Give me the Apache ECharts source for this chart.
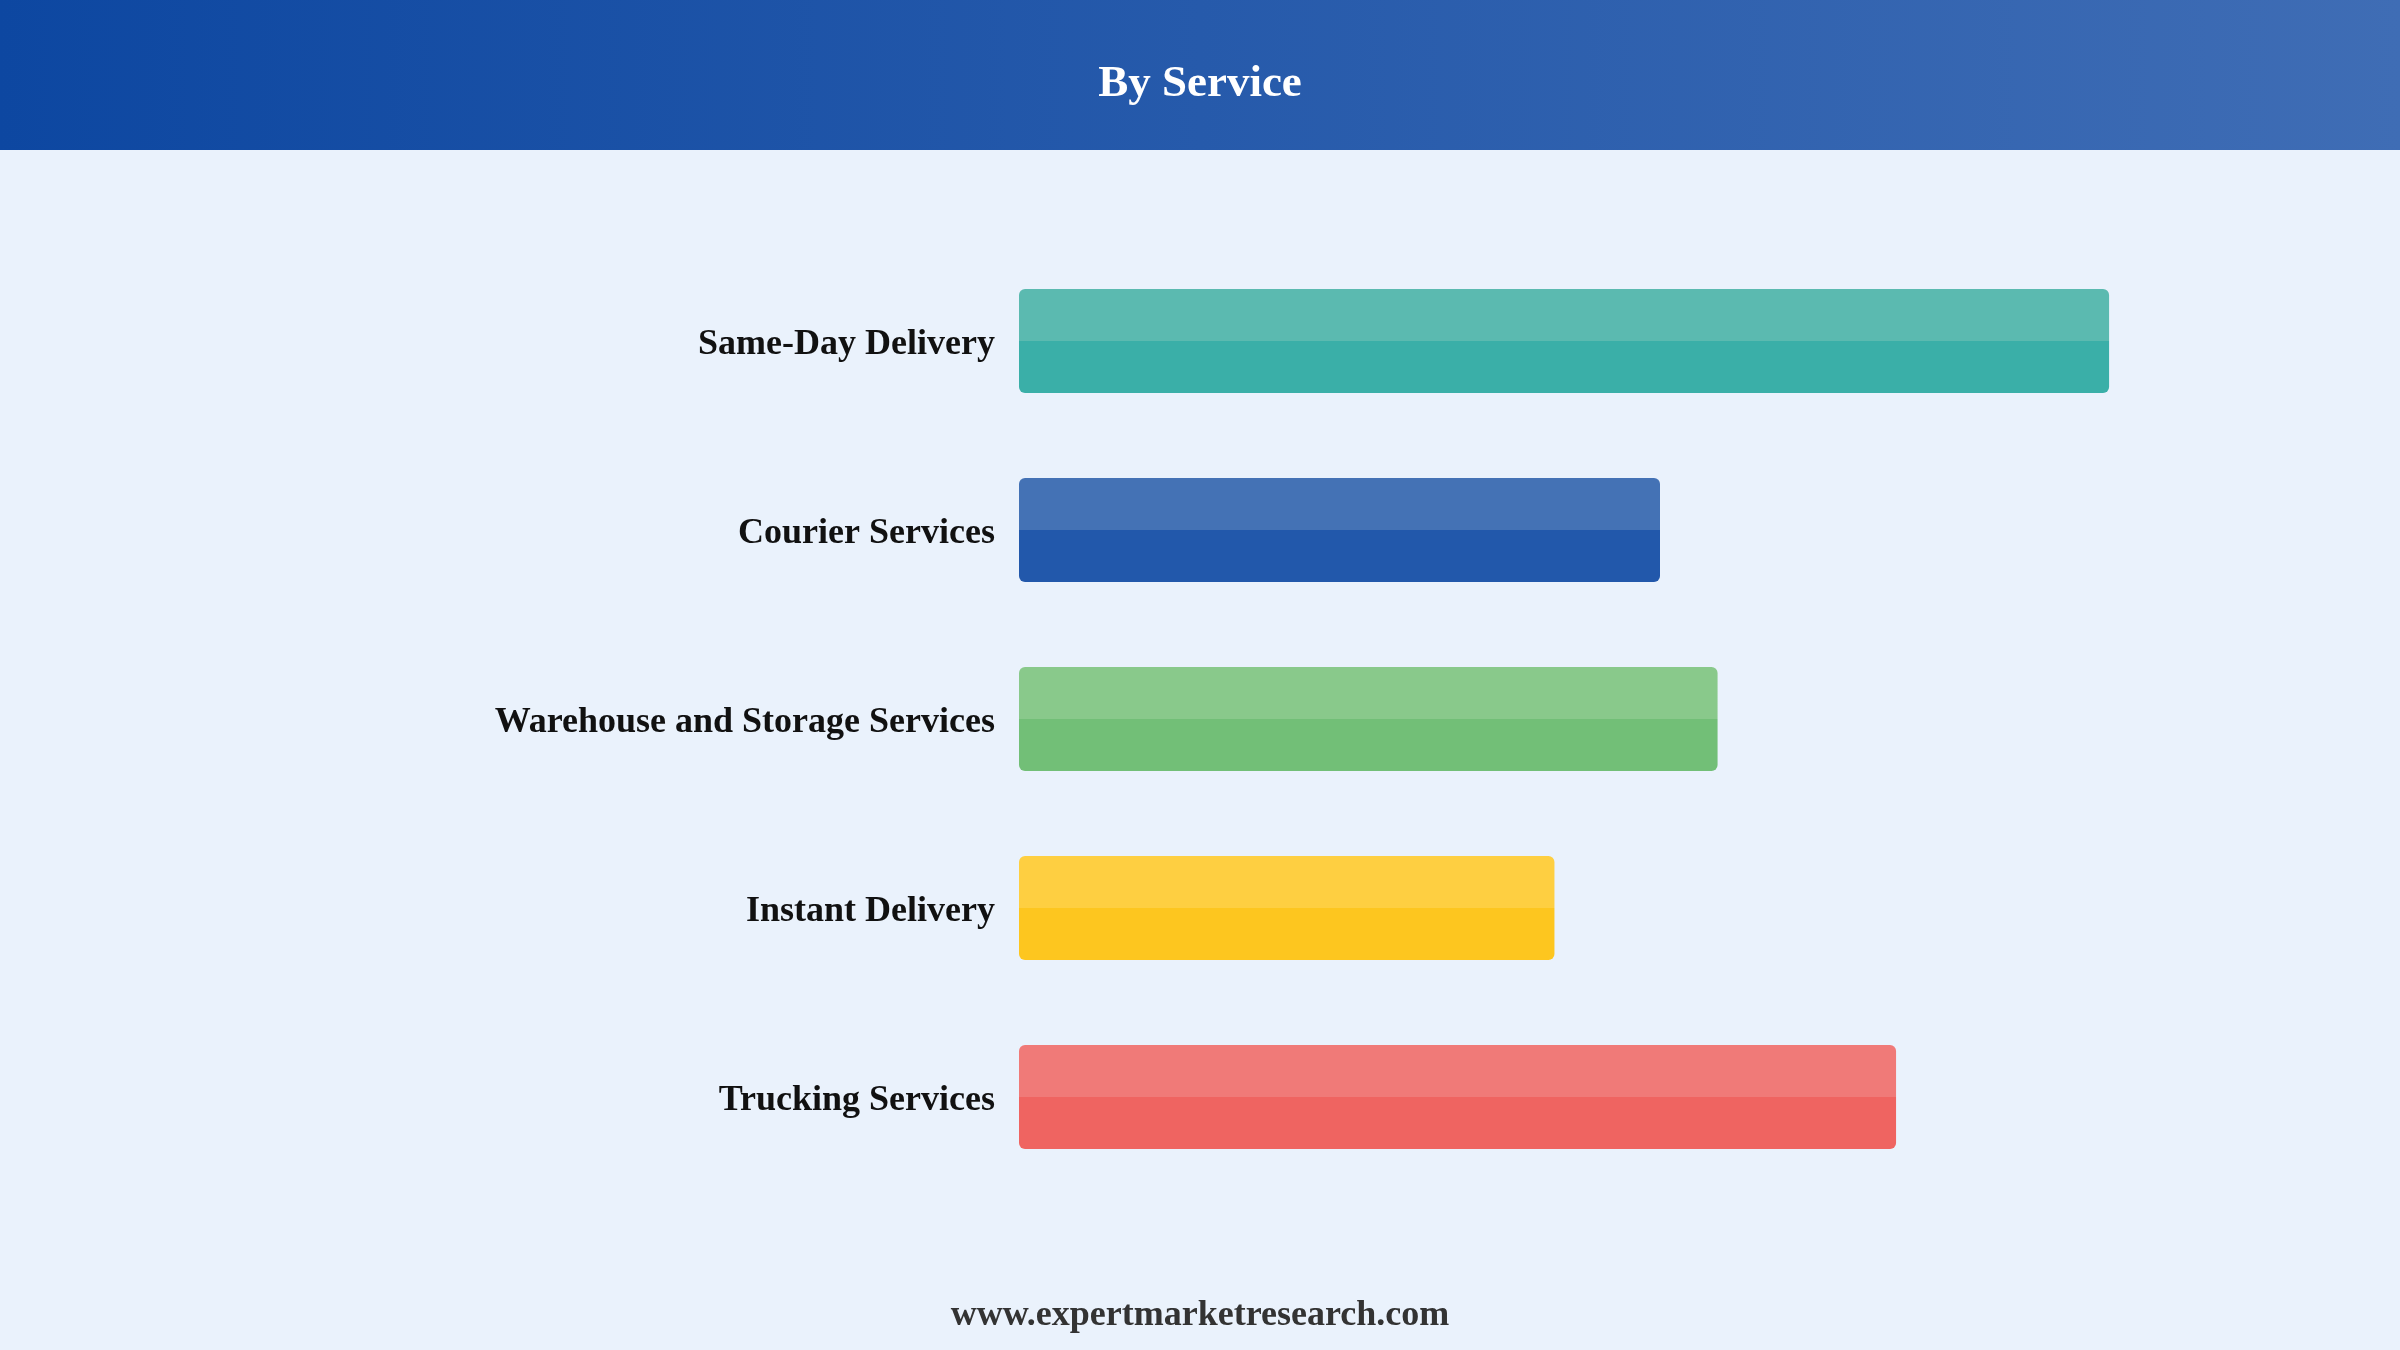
<!DOCTYPE html>
<html>
<head>
<meta charset="utf-8">
<script src="https://cdn.jsdelivr.net/npm/echarts@6/dist/echarts.min.js"></script>
<style>
html,body{margin:0;padding:0;background:#EAF2FC;}
#chart{width:2400px;height:1350px;}
</style>
</head>
<body>
<div id="chart"></div>
<script>
const categories = ['Same-Day Delivery','Courier Services','Warehouse and Storage Services','Instant Delivery','Trucking Services'];
const values = [28.4, 16.7, 18.2, 13.95, 22.85];
const lightColors = ['#5BBAB0','#4472B5','#89C98B','#FECF41','#F07A78'];
const darkColors  = ['#3AAFA8','#2258AB','#72BF77','#FDC61F','#EF6461'];
const titleText = 'By Service';
const footerText = 'www.expertmarketresearch.com';

const chart = echarts.init(document.getElementById('chart'), null, {renderer:'canvas'});
const serif = '"Liberation Serif","Times New Roman",serif';

const data = values.map((v,i)=>({
  value: v,
  itemStyle: {
    color: new echarts.graphic.LinearGradient(0,0,0,1,[
      {offset:0,color:lightColors[i]},
      {offset:0.5,color:lightColors[i]},
      {offset:0.5,color:darkColors[i]},
      {offset:1,color:darkColors[i]}
    ])
  }
}));

chart.setOption({
  backgroundColor:'#EAF2FC',
  animation:false,
  graphic:[
    {type:'rect', left:0, top:0, shape:{width:2400,height:150}, z:0,
     style:{fill:new echarts.graphic.LinearGradient(0,0,1,0,[{offset:0,color:'#0D47A1'},{offset:1,color:'#3F6DB5'}])}},
    {type:'text', left:'center', top:62, z:1,
     style:{text:titleText, fill:'#FFFFFF', font:'bold 45px '+serif}},
    {type:'text', left:'center', top:1298, z:1,
     style:{text:footerText, fill:'#333333', font:'bold 36px '+serif}}
  ],
  grid:{left:1019, top:246.5, height:945, width:1151.5, containLabel:false},
  xAxis:{type:'value', min:0, max:30, show:false},
  yAxis:{type:'category', data:categories, inverse:true,
    axisLine:{show:false}, axisTick:{show:false}, splitLine:{show:false},
    axisLabel:{margin:24, formatter:'{a|{value}}',
      rich:{a:{color:'#111111', fontFamily:serif, fontWeight:'bold', fontSize:36, padding:[7,0,0,0]}}}},
  series:[{type:'bar', data:data, barWidth:104, itemStyle:{borderRadius:6}}]
});
</script>
</body>
</html>
